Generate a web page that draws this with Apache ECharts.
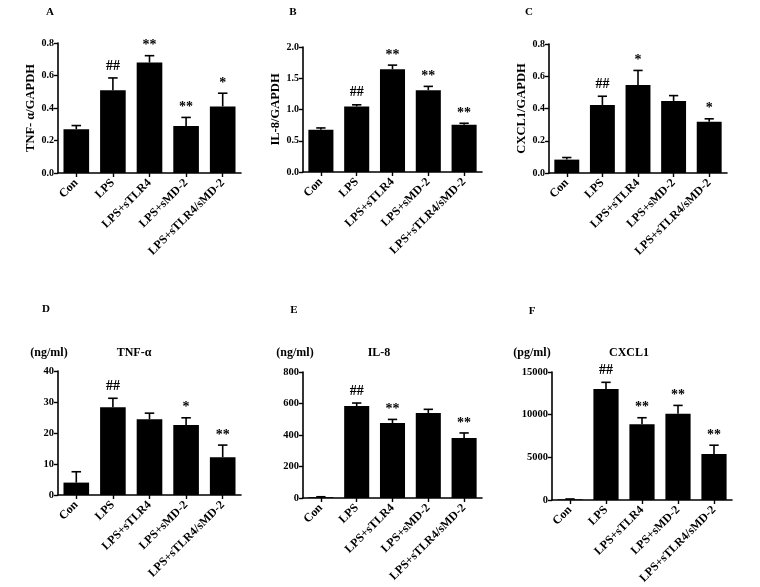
<!DOCTYPE html>
<html>
<head>
<meta charset="utf-8">
<script src="https://cdn.jsdelivr.net/npm/echarts@6/dist/echarts.min.js"></script>
<style>html,body{margin:0;padding:0;background:#fff}#c{width:760px;height:587px}</style>
</head>
<body>
<div id="c"></div>
<script>
const categories = ['Con', 'LPS', 'LPS+sTLR4', 'LPS+sMD-2', 'LPS+sTLR4/sMD-2'];

const tnfMrna = [0.27, 0.51, 0.68, 0.29, 0.41];
const tnfMrnaErr = [0.292, 0.585, 0.722, 0.342, 0.491];
const tnfMrnaSig = ['', '##', '**', '**', '*'];

const il8Mrna = [0.675, 1.05, 1.645, 1.31, 0.755];
const il8MrnaErr = [0.705, 1.075, 1.71, 1.37, 0.78];
const il8MrnaSig = ['', '##', '**', '**', '**'];

const cxcl1Mrna = [0.083, 0.422, 0.545, 0.447, 0.318];
const cxcl1MrnaErr = [0.096, 0.476, 0.636, 0.48, 0.336];
const cxcl1MrnaSig = ['', '##', '*', '', '*'];

const tnfProt = [4.0, 28.3, 24.4, 22.6, 12.2];
const tnfProtErr = [7.5, 31.2, 26.4, 24.9, 16.1];
const tnfProtSig = ['', '##', '', '*', '**'];

const il8Prot = [5, 584, 476, 540, 381];
const il8ProtErr = [8, 603, 499, 563, 413];
const il8ProtSig = ['', '##', '**', '', '**'];

const cxcl1Prot = [80, 13000, 8890, 10100, 5400];
const cxcl1ProtErr = [120, 13790, 9640, 11085, 6420];
const cxcl1ProtSig = ['', '##', '**', '**', '**'];

const FONT = '"Liberation Serif", "Times New Roman", serif';

const panels = [
  {grid: {left: 58, top: 43, width: 183, height: 130}, v: tnfMrna, e: tnfMrnaErr, s: tnfMrnaSig, max: 0.8, iv: 0.2, dec: 1, name: 'TNF- α/GAPDH'},
  {grid: {left: 303, top: 47, width: 179, height: 125}, v: il8Mrna, e: il8MrnaErr, s: il8MrnaSig, max: 2.0, iv: 0.5, dec: 1, name: 'IL-8/GAPDH'},
  {grid: {left: 549, top: 44, width: 178, height: 129}, v: cxcl1Mrna, e: cxcl1MrnaErr, s: cxcl1MrnaSig, max: 0.8, iv: 0.2, dec: 1, name: 'CXCL1/GAPDH'},
  {grid: {left: 58, top: 371, width: 183, height: 124}, v: tnfProt, e: tnfProtErr, s: tnfProtSig, max: 40, iv: 10, dec: 0, name: ''},
  {grid: {left: 303, top: 372, width: 179, height: 126}, v: il8Prot, e: il8ProtErr, s: il8ProtSig, max: 800, iv: 200, dec: 0, name: ''},
  {grid: {left: 552, top: 372, width: 180, height: 128}, v: cxcl1Prot, e: cxcl1ProtErr, s: cxcl1ProtSig, max: 15000, iv: 5000, dec: 0, name: ''}
];

const grids = [], xAxes = [], yAxes = [], series = [];
panels.forEach((p, i) => {
  grids.push(Object.assign({containLabel: false, outerBoundsMode: 'none'}, p.grid));
  xAxes.push({
    type: 'category', gridIndex: i, data: categories,
    axisLine: {lineStyle: {color: '#000', width: 1.6}},
    axisTick: {show: true, alignWithLabel: true, length: 4, lineStyle: {color: '#000', width: 1.4}},
    axisLabel: {rotate: 45, interval: 0, margin: 8, color: '#000', fontFamily: FONT, fontWeight: 'bold', fontSize: 12}
  });
  yAxes.push({
    type: 'value', gridIndex: i, min: 0, max: p.max, interval: p.iv,
    splitLine: {show: false},
    axisLine: {show: true, lineStyle: {color: '#000', width: 1.6}},
    axisTick: {show: true, length: 4, lineStyle: {color: '#000', width: 1.4}},
    axisLabel: {margin: 4, color: '#000', fontFamily: FONT, fontWeight: 'bold', fontSize: i < 3 ? 10 : 10.5,
      formatter: (val) => val.toFixed(p.dec)},
    name: p.name, nameLocation: 'middle', nameGap: 15,
    nameTextStyle: {color: '#000', fontFamily: FONT, fontWeight: 'bold', fontSize: 12.5}
  });
  series.push({
    type: 'bar', xAxisIndex: i, yAxisIndex: i, data: p.v,
    barCategoryGap: '30%', itemStyle: {color: '#000'}, silent: true
  });
  series.push({
    type: 'custom', xAxisIndex: i, yAxisIndex: i,
    data: p.v.map((val, k) => [k, val, p.e[k]]),
    renderItem: (params, api) => {
      const k = api.value(0);
      const a = api.coord([k, api.value(1)]);
      const b = api.coord([k, api.value(2)]);
      const half = api.size([1, 0])[0] * 0.13;
      return {type: 'group', children: [
        {type: 'line', shape: {x1: a[0], y1: a[1], x2: b[0], y2: b[1]}, style: {stroke: '#000', lineWidth: 1.6}},
        {type: 'line', shape: {x1: b[0] - half, y1: b[1], x2: b[0] + half, y2: b[1]}, style: {stroke: '#000', lineWidth: 1.6}}
      ]};
    }, silent: true, z: 3
  });
  series.push({
    type: 'custom', xAxisIndex: i, yAxisIndex: i,
    data: p.e.map((val, k) => [k, val]),
    renderItem: (params, api) => {
      const k = api.value(0);
      const b = api.coord([k, api.value(1)]);
      const t = p.s[k];
      return {type: 'text', x: b[0], y: b[1] - (t === '##' ? 5 : 3),
        style: {text: t, align: 'center', verticalAlign: 'bottom', fill: '#000',
          font: 'bold 14px ' + FONT}};
    }, silent: true, z: 4
  });
});

const txt = (x, y, t, size) => ({type: 'text', x: x, y: y,
  style: {text: t, align: 'center', verticalAlign: 'middle', fill: '#000', font: 'bold ' + size + 'px ' + FONT}});

const chart = echarts.init(document.getElementById('c'), null, {renderer: 'canvas'});
chart.setOption({
  animation: false,
  backgroundColor: '#fff',
  grid: grids, xAxis: xAxes, yAxis: yAxes, series: series,
  graphic: [
    txt(50, 12, 'A', 11), txt(293, 12, 'B', 11), txt(529, 12, 'C', 11),
    txt(46, 309, 'D', 11), txt(294, 310, 'E', 11), txt(532, 311, 'F', 11),
    txt(49, 353, '(ng/ml)', 12), txt(134, 353, 'TNF-α', 12),
    txt(295, 353, '(ng/ml)', 12), txt(379, 353, 'IL-8', 12),
    txt(532, 353, '(pg/ml)', 12), txt(629, 353, 'CXCL1', 12)
  ]
});
</script>
</body>
</html>
